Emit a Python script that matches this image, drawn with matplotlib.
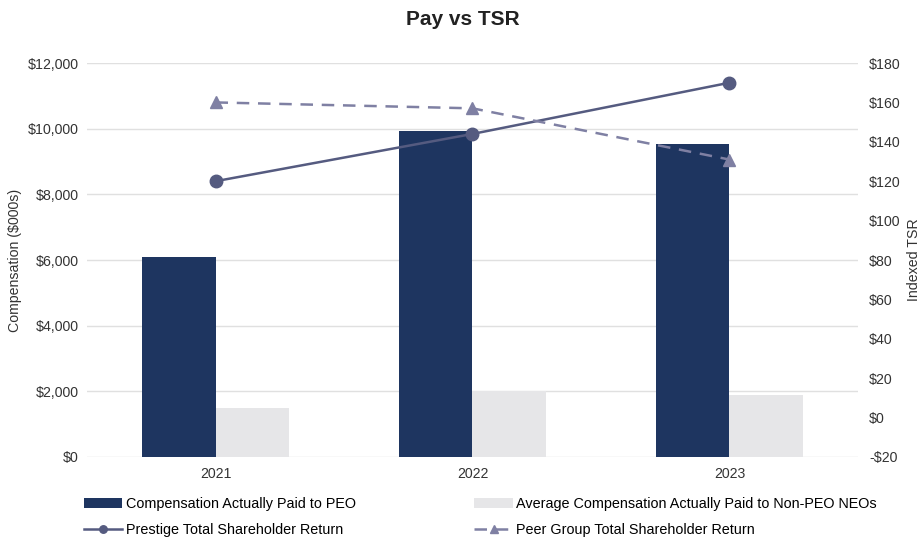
import matplotlib.pyplot as plt
import numpy as np
from matplotlib.ticker import FuncFormatter

plt.rcParams['font.family'] = ['Liberation Sans', 'DejaVu Sans']

# Data ($000s and indexed TSR)
years = ['2021', '2022', '2023']
peo_cap = [6100, 9930, 9530]
neo_cap = [1500, 2010, 1890]
prestige_tsr = [120, 144, 170]
peer_tsr = [160, 157, 131]

fig = plt.figure(figsize=(9.21, 5.41), dpi=100)
ax = fig.add_axes([0.0945, 0.1553, 0.837, 0.7282])

x = np.arange(len(years))
w = 0.285
ax.bar(x - w / 2, peo_cap, w, color='#1e3560', label='Compensation Actually Paid to PEO', zorder=2)
ax.bar(x + w / 2, neo_cap, w, color='#e6e6e8', label='Average Compensation Actually Paid to Non-PEO NEOs', zorder=2)

ax.set_xlim(-0.5, 2.5)
ax.set_ylim(0, 12000)
ax.set_yticks(np.arange(0, 12001, 2000))
ax.yaxis.set_major_formatter(FuncFormatter(lambda v, p: f'${v:,.0f}'))
ax.set_xticks(x)
ax.set_xticklabels(years)
ax.grid(axis='y', color='#e0e0e0', linewidth=1, zorder=0)
ax.set_axisbelow(True)
for s in ax.spines.values():
    s.set_visible(False)
ax.tick_params(length=0, labelsize=10.2, colors='#333333', pad=6)
ax.tick_params(axis='x', pad=7)

# TSR lines on the secondary axis
ax2 = ax.twinx()
ax2.plot(x, prestige_tsr, color='#555b80', linewidth=1.8, marker='o', markersize=9,
         label='Prestige Total Shareholder Return', zorder=3)
ax2.plot(x, peer_tsr, color='#7f80a3', linewidth=1.8, linestyle=(0, (5, 3.5)), marker='^',
         markersize=9, label='Peer Group Total Shareholder Return', zorder=3)
ax2.set_ylim(-20, 180)
ax2.set_yticks(np.arange(-20, 181, 20))
ax2.yaxis.set_major_formatter(FuncFormatter(lambda v, p: f'-${-v:.0f}' if v < 0 else f'${v:.0f}'))
for s in ax2.spines.values():
    s.set_visible(False)
ax2.tick_params(length=0, labelsize=10.2, colors='#333333', pad=8)

# axis titles
fig.text(15 / 921, 1 - 260 / 541, 'Compensation ($000s)', rotation=90, ha='center', va='center',
         fontsize=10.2, color='#333333')
fig.text(913.5 / 921, 1 - 260 / 541, 'Indexed TSR', rotation=90, ha='center', va='center',
         fontsize=10.2, color='#333333')

fig.suptitle('Pay vs TSR', x=0.503, y=0.982, fontsize=15, fontweight='bold', color='#222222')

h1, l1 = ax.get_legend_handles_labels()
h2, l2 = ax2.get_legend_handles_labels()
handles = [h1[0], h2[0], h1[1], h2[1]]
labels = [l1[0], l2[0], l1[1], l2[1]]
fig.legend(handles, labels, ncol=2, loc='upper left', bbox_to_anchor=(0.085, 0.092),
           frameon=False, fontsize=10.4, handlelength=2.65, handletextpad=0.25,
           columnspacing=8.2, labelspacing=0.8, borderaxespad=0, markerscale=0.6)

fig.savefig('out.png', dpi=100)
